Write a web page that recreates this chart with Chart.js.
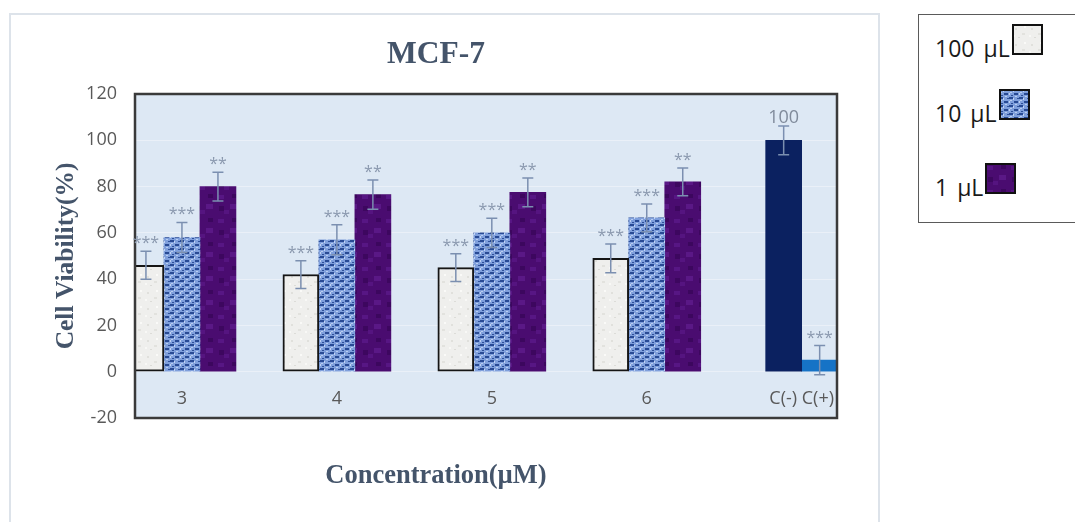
<!DOCTYPE html>
<html>
<head>
<meta charset="utf-8">
<script src="https://cdn.jsdelivr.net/npm/chart.js@4.4.1/dist/chart.umd.min.js"></script>
<style>
  html, body { margin: 0; padding: 0; background: #ffffff; overflow: hidden; }
  body { width: 1075px; height: 522px; position: relative; font-family: 'Open Sans', sans-serif; }
  #frame { position: absolute; left: 9px; top: 13px; width: 867px; height: 520px; border: 2px solid #dde3ea; box-sizing: content-box; }
  #wrap { position: absolute; left: 0; top: 0; width: 872px; height: 522px; }
  #legend { position: absolute; left: 918px; top: 14px; width: 170px; height: 207px; border: 1px solid #5a5a5a; background: #fff; }
  .item { position: absolute; left: 16px; height: 30px; display: flex; align-items: center; font-size: 23px; word-spacing: 3px; color: #1a1a1a; line-height: 30px; }
  .item canvas { position: relative; top: -9px; margin-left: 2px; }
</style>
</head>
<body>
<div id="frame"></div>
<div id="wrap"><canvas id="chart" width="872" height="522"></canvas></div>
<div id="legend"></div>
<script>
// ---- data ----
const categories = ['3', '4', '5', '6', 'C(-) C(+)'];
const seriesNames = ['100 µL', '10 µL', '1 µL'];
const series100 = [46, 42, 45, 49, null];
const series10  = [58, 57, 60, 66.5, null];
const series1   = [80, 76.5, 77.5, 82, null];
const controlNeg = [null, null, null, null, 100];
const controlPos = [null, null, null, null, 5];
const err100 = [6, 6, 6, 6.2, null];
const err10  = [6.5, 6.5, 6.3, 6, null];
const err1   = [6.2, 6.3, 6.2, 6, null];
const errNeg = [null, null, null, null, 6.2];
const errPos = [null, null, null, null, 6.3];
const sig100 = ['***', '***', '***', '***', null];
const sig10  = ['***', '***', '***', '***', null];
const sig1   = ['**', '**', '**', '**', null];
const sigNeg = [null, null, null, null, '100'];
const sigPos = [null, null, null, null, '***'];
const yMin = -20, yMax = 120, yStep = 20;

// ---- textures ----
function texture(w, h, base, marks) {
  const c = document.createElement('canvas');
  c.width = w; c.height = h;
  const g = c.getContext('2d');
  g.fillStyle = base; g.fillRect(0, 0, w, h);
  marks.forEach(m => { g.fillStyle = m[4]; g.fillRect(m[0], m[1], m[2], m[3]); });
  return c;
}
const texWhite = texture(16, 16, '#efefed', [
  [3, 4, 2, 2, '#e0e0dc'], [10, 9, 3, 2, '#e2e2de'], [6, 13, 2, 1, '#dcdcd8'], [12, 2, 2, 2, '#fafaf8'], [1, 11, 2, 2, '#f8f8f6']
]);
const texBlue = texture(10, 8, '#7f9fdc', [
  [0, 0, 4, 2, '#284a94'], [5, 4, 4, 2, '#284a94'], [8, 1, 2, 1, '#2f5199'], [2, 6, 2, 1, '#2f5199'],
  [4, 1, 1, 2, '#c2d4f3'], [0, 4, 1, 2, '#c2d4f3'], [6, 7, 2, 1, '#b8cdf0'], [1, 3, 2, 1, '#b8cdf0']
]);
const texPurple = texture(24, 24, '#4a0c70', [
  [2, 3, 6, 4, '#571684'], [14, 12, 7, 5, '#5a1886'], [8, 18, 5, 4, '#551480'],
  [16, 2, 5, 4, '#3c075e'], [3, 14, 5, 5, '#3d075f']
]);
const ctxMain = document.getElementById('chart').getContext('2d');
const pWhite = ctxMain.createPattern(texWhite, 'repeat');
const pBlue = ctxMain.createPattern(texBlue, 'repeat');
const pPurple = ctxMain.createPattern(texPurple, 'repeat');

const toPoints = arr => arr.map((v, i) => ({ x: i, y: v }));

const overlay = {
  id: 'overlay',
  beforeDraw(chart) {
    const { ctx, chartArea: a } = chart;
    ctx.save();
    ctx.fillStyle = '#dde8f4';
    ctx.fillRect(a.left, a.top, a.right - a.left, a.bottom - a.top);
    ctx.restore();
  },
  afterDatasetsDraw(chart) {
    const { ctx, chartArea: a, scales } = chart;
    const y = scales.y;
    ctx.save();
    ctx.strokeStyle = '#3a3a3a';
    ctx.lineWidth = 2.5;
    ctx.strokeRect(a.left, a.top, a.right - a.left, a.bottom - a.top);
    chart.data.datasets.forEach((ds, di) => {
      const meta = chart.getDatasetMeta(di);
      ds.data.forEach((pt, j) => {
        if (pt.y == null) return;
        const bar = meta.data[j];
        const x = bar.x;
        const e = ds.errors[j];
        const t = y.getPixelForValue(pt.y + e);
        const b = y.getPixelForValue(pt.y - e);
        ctx.strokeStyle = '#7b8fb0';
        ctx.lineWidth = 1.5;
        ctx.beginPath();
        ctx.moveTo(x, t); ctx.lineTo(x, b);
        ctx.moveTo(x - 5.5, t); ctx.lineTo(x + 5.5, t);
        ctx.moveTo(x - 5.5, b); ctx.lineTo(x + 5.5, b);
        ctx.stroke();
        const lab = ds.marks[j];
        if (lab) {
          const numeric = /^\d+$/.test(lab);
          ctx.fillStyle = numeric ? '#808b9b' : '#8a98ae';
          ctx.font = (numeric ? '18px' : '16px') + " 'Open Sans'";
          ctx.textAlign = 'center';
          ctx.textBaseline = 'alphabetic';
          ctx.fillText(lab, x, t - 3);
        }
      });
    });
    ctx.restore();
  }
};

const serifBold = { family: "'Liberation Serif', 'Times New Roman', serif", weight: 'bold' };

new Chart(ctxMain, {
  type: 'bar',
  data: {
    datasets: [
      { label: seriesNames[0], data: toPoints(series100), errors: err100, marks: sig100, backgroundColor: pWhite, borderColor: '#151515', borderWidth: 2, borderSkipped: false },
      { label: seriesNames[1], data: toPoints(series10), errors: err10, marks: sig10, backgroundColor: pBlue, borderWidth: 0 },
      { label: seriesNames[2], data: toPoints(series1), errors: err1, marks: sig1, backgroundColor: pPurple, borderWidth: 0 },
      { label: 'C(-)', data: toPoints(controlNeg), errors: errNeg, marks: sigNeg, backgroundColor: '#0b2160', borderWidth: 0 },
      { label: 'C(+)', data: toPoints(controlPos), errors: errPos, marks: sigPos, backgroundColor: '#1673c6', borderWidth: 0 }
    ]
  },
  options: {
    responsive: false,
    animation: false,
    devicePixelRatio: 1,
    layout: { padding: { left: 35, right: 35, top: 0, bottom: 0 } },
    datasets: { bar: { barThickness: 36, skipNull: true, grouped: true } },
    plugins: {
      legend: { display: false },
      tooltip: { enabled: false },
      title: {
        display: true, text: 'MCF-7', color: '#44546a',
        font: { ...serifBold, size: 31.5 }, padding: { top: 36.1, bottom: 20.1 }
      },
      subtitle: {
        display: true, position: 'bottom', text: 'Concentration(µM)', color: '#44546a',
        font: { ...serifBold, size: 26.5 }, padding: { top: 42.1, bottom: 30.1 }
      }
    },
    scales: {
      x: {
        type: 'linear',
        offset: false,
        min: -0.303, max: 4.228,
        position: { y: -5 },
        grid: { display: false, drawTicks: false },
        border: { display: false },
        afterBuildTicks: axis => { axis.ticks = categories.map((c, i) => ({ value: i })); },
        ticks: {
          autoSkip: false, maxRotation: 0, padding: 5,
          color: '#595959', font: { family: "'Open Sans'", size: 18 },
          callback: (v, i) => categories[i]
        }
      },
      y: {
        min: yMin, max: yMax,
        afterFit: s => { s.width = 100; },
        grid: { color: '#eaf0f8', lineWidth: 1, drawTicks: false },
        border: { display: false },
        ticks: { stepSize: yStep, padding: 18, color: '#595959', font: { family: "'Open Sans'", size: 18 } },
        title: {
          display: true, text: 'Cell Viability(%)', color: '#44546a',
          font: { ...serifBold, size: 25.5 }, padding: { top: 15.7, bottom: 0 }
        }
      }
    }
  },
  plugins: [overlay]
});

// ---- legend (outside the chart frame, as in the reference) ----
const legend = document.getElementById('legend');
const swatchTex = [texWhite, texBlue, texPurple];
const legendTops = [18, 83, 157];
seriesNames.forEach((name, i) => {
  const item = document.createElement('div');
  item.className = 'item';
  item.style.top = legendTops[i] + 'px';
  const span = document.createElement('span');
  span.textContent = name;
  const sw = document.createElement('canvas');
  sw.width = 31; sw.height = 31;
  const g = sw.getContext('2d');
  g.fillStyle = g.createPattern(swatchTex[i], 'repeat');
  g.fillRect(0, 0, 31, 31);
  g.strokeStyle = '#111';
  g.lineWidth = 2;
  g.strokeRect(1, 1, 29, 29);
  item.appendChild(span);
  item.appendChild(sw);
  legend.appendChild(item);
});
</script>
</body>
</html>
